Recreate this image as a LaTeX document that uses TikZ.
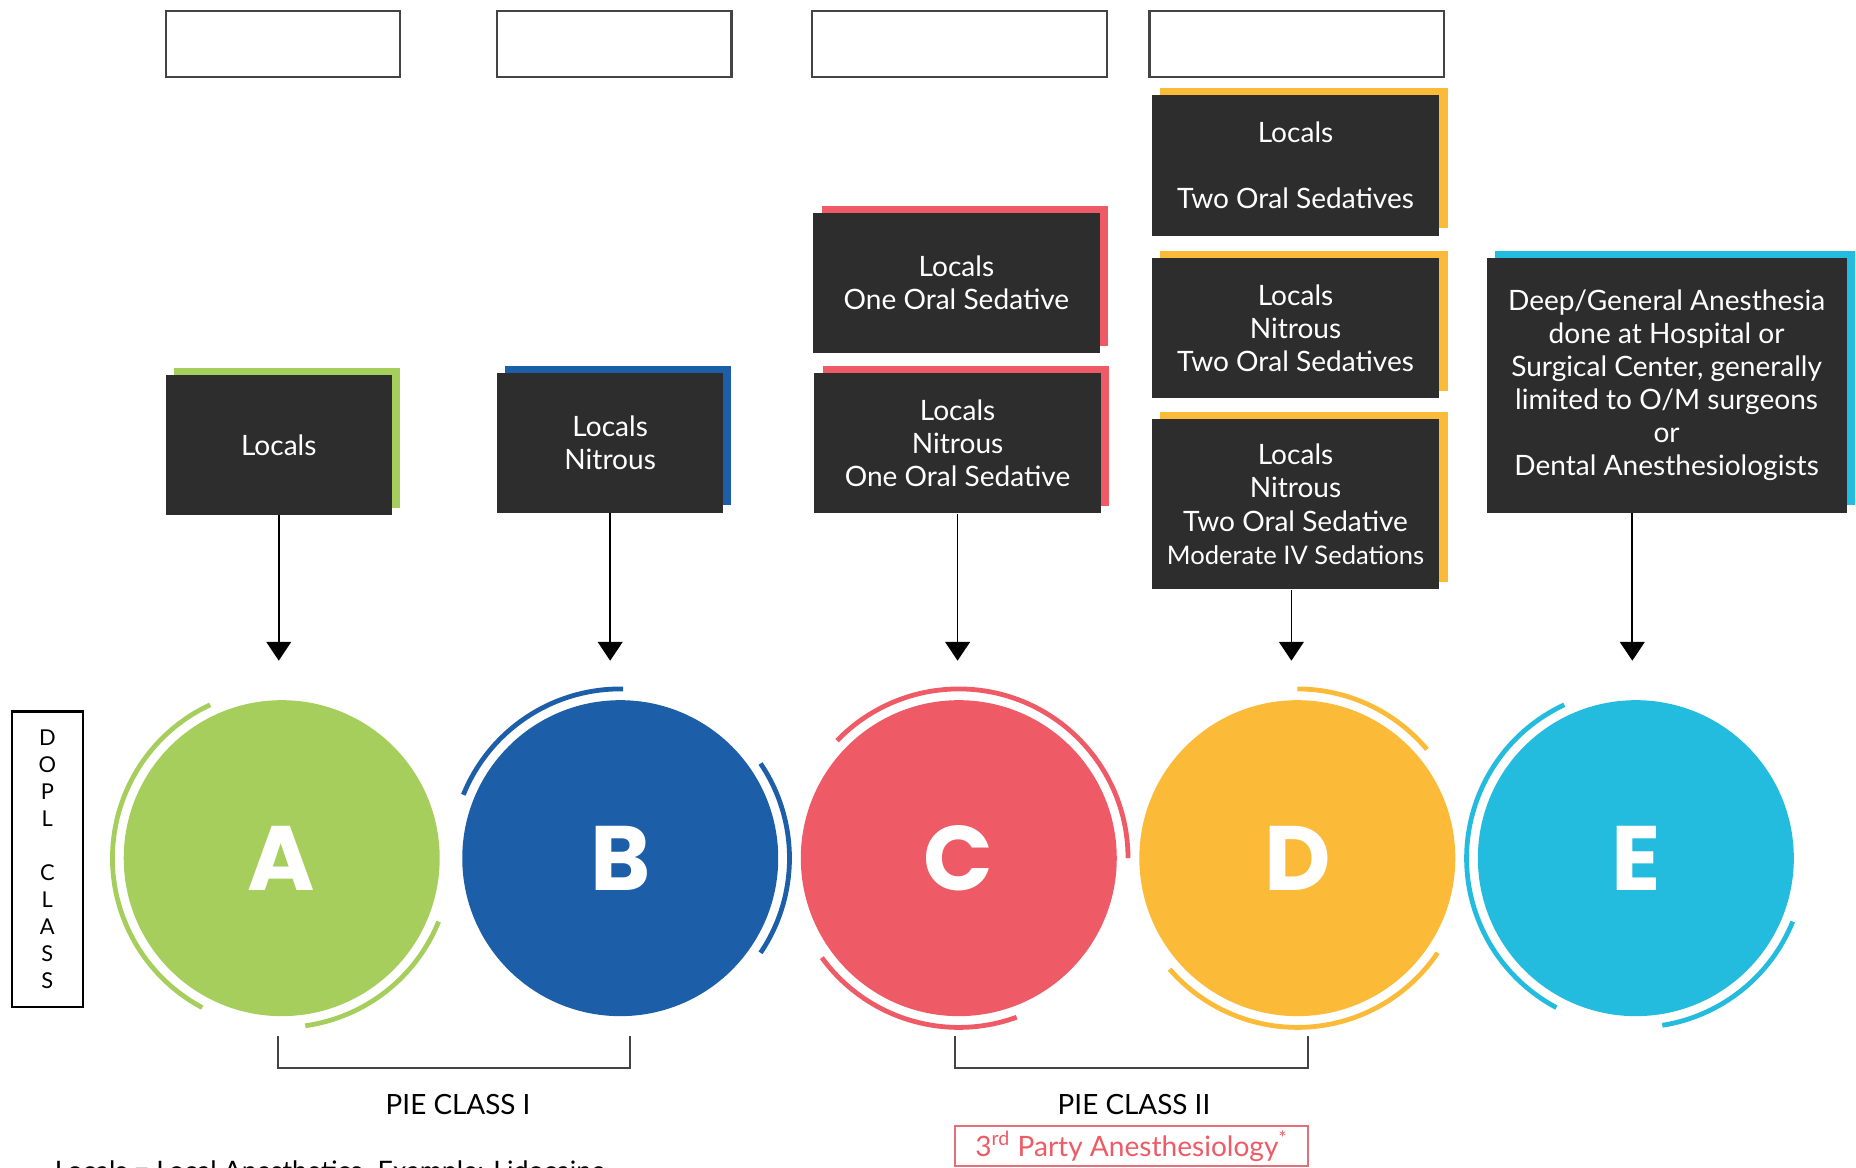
\documentclass[tikz,border=0pt]{standalone}
\usepackage{fontspec}
\setmainfont{Lato}
\newfontfamily\letterfont{Poppins}
\usepackage{tikz}
\usetikzlibrary{positioning}
\usetikzlibrary{shadows}
\usetikzlibrary{arrows.meta}

\definecolor{boxdark}{HTML}{2D2D2D}
\definecolor{boxline}{HTML}{444444}
\definecolor{classA}{HTML}{A6CE5C}
\definecolor{classB}{HTML}{1C5EA8}
\definecolor{classC}{HTML}{EE5A65}
\definecolor{classD}{HTML}{FBBA38}
\definecolor{classE}{HTML}{23BBDE}
\definecolor{partyred}{HTML}{E2707B}

\begin{document}
\begin{tikzpicture}[x=0.02cm, y=-0.02cm,
  topbox/.style={draw=boxline, line width=1.1pt, minimum height=1.12cm, inner sep=0pt},
  darkbox/.style={copy shadow={shadow xshift=0.14cm, shadow yshift=0.12cm, fill=#1, draw=none},
    fill=boxdark, text=white, align=center, inner sep=0pt,
    font=\fontsize{13.5}{15.9}\selectfont},
  classcirc/.style={circle, fill=#1, minimum size=5.34cm, inner sep=0pt, text=white,
    font=\letterfont\bfseries\fontsize{44}{44}\selectfont},
  ring/.style={draw=#1, line width=2.3pt},
  arr/.style={draw=black, line width=0.85pt, -{Triangle[width=0.42cm,length=0.32cm]}},
  bracket/.style={draw=boxline, line width=0.9pt},
  classlabel/.style={font=\fontsize{13.4}{15}\selectfont, text=black}]
  \useasboundingbox (0,0) rectangle (1568,986);

  % empty header boxes
  \node[topbox, minimum width=3.96cm] (headA) at (239,37) {};
  \node[topbox, minimum width=3.96cm] (headB) at (519,37) {};
  \node[topbox, minimum width=4.98cm] (headC) at (810.5,37) {};
  \node[topbox, minimum width=4.98cm] (headD) at (1095.5,37) {};

  % treatment boxes
  \node[darkbox=classA, minimum width=3.82cm, minimum height=2.36cm] (boxA) at (235.5,376) {Locals};
  \node[darkbox=classB, minimum width=3.82cm, minimum height=2.36cm] (boxB) at (515.5,374) {Locals\\Nitrous};
  \node[darkbox=classC, minimum width=4.84cm, minimum height=2.36cm] (boxCa) at (808,239) {Locals\\One Oral Sedative};
  \node[darkbox=classC, minimum width=4.84cm, minimum height=2.36cm] (boxCb) at (809,374.5) {Locals\\Nitrous\\One Oral Sedative};
  \node[darkbox=classD, minimum width=4.86cm, minimum height=2.38cm] (boxDa) at (1094.5,139.5) {Locals\\[15.9pt]Two Oral Sedatives};
  \node[darkbox=classD, minimum width=4.86cm, minimum height=2.36cm] (boxDb) at (1094.5,277) {Locals\\Nitrous\\Two Oral Sedatives};
  \node[darkbox=classD, minimum width=4.86cm, minimum height=2.88cm] (boxDc) at (1094.5,426)
    {Locals\\Nitrous\\Two Oral Sedative\\{\fontsize{12.3}{15.9}\selectfont Moderate IV Sedations}};
  \node[darkbox=classE, minimum width=6.08cm, minimum height=4.30cm] (boxE) at (1408,325.5)
    {Deep/General Anesthesia\\done at Hospital or\\Surgical Center, generally\\limited to O/M surgeons\\or\\Dental Anesthesiologists};

  % class circles
  \node[classcirc=classA] (circA) at (238,725) {A};
  \node[classcirc=classB] (circB) at (524,725) {B};
  \node[classcirc=classC] (circC) at (810,725) {C};
  \node[classcirc=classD] (circD) at (1096,725) {D};
  \node[classcirc=classE] (circE) at (1382,725) {E};

  % rings
  \draw[ring=classA] (circA.center) ++(115:2.86cm) arc[start angle=115, end angle=242, radius=2.86cm];
  \draw[ring=classA] (circA.center) ++(-82:2.86cm) arc[start angle=-82, end angle=-22, radius=2.86cm];
  \draw[ring=classB] (circB.center) ++(89:2.86cm) arc[start angle=89, end angle=158, radius=2.86cm];
  \draw[ring=classB] (circB.center) ++(-34:2.86cm) arc[start angle=-34, end angle=34, radius=2.86cm];
  \draw[ring=classC] (circC.center) ++(0:2.86cm) arc[start angle=0, end angle=136, radius=2.86cm];
  \draw[ring=classC] (circC.center) ++(216:2.86cm) arc[start angle=216, end angle=290, radius=2.86cm];
  \draw[ring=classD] (circD.center) ++(40:2.86cm) arc[start angle=40, end angle=90, radius=2.86cm];
  \draw[ring=classD] (circD.center) ++(221:2.86cm) arc[start angle=221, end angle=326, radius=2.86cm];
  \draw[ring=classE] (circE.center) ++(115:2.86cm) arc[start angle=115, end angle=242, radius=2.86cm];
  \draw[ring=classE] (circE.center) ++(-81:2.86cm) arc[start angle=-81, end angle=-22, radius=2.86cm];

  % arrows
  \draw[arr] (boxA.south) -- ([yshift=0.66cm]boxA.south |- circA.north);
  \draw[arr] (boxB.south) -- ([yshift=0.66cm]boxB.south |- circB.north);
  \draw[arr] (boxCb.south) -- ([yshift=0.66cm]boxCb.south |- circC.north);
  \draw[arr] ([xshift=-0.07cm]boxDc.south) -- ([xshift=-0.07cm,yshift=0.66cm]boxDc.south |- circD.north);
  \draw[arr] ([xshift=-0.06cm]circE |- boxE.south) -- ([xshift=-0.06cm,yshift=0.66cm]circE.north);

  % side label
  \node[draw=black, line width=1.1pt, minimum width=1.2cm, minimum height=5cm, align=center,
    font=\fontsize{10.5}{13}\selectfont] (dopl) at (40,726) {D\\O\\P\\L\\[13pt]C\\L\\A\\S\\S};

  % PIE classes
  \draw[bracket] (235,875) |- (532,902) -- (532,875);
  \node[classlabel] (pieA) at (387,933) {PIE CLASS I};
  \draw[bracket] (807,875) |- (1105,902) -- (1105,875);
  \node[classlabel] (pieB) at (958,933) {PIE CLASS II};
  \node[draw=partyred, line width=1pt, text=classC, minimum width=5.96cm, minimum height=0.68cm,
    inner sep=0pt, font=\fontsize{13.5}{15}\selectfont] (party) at (956,968)
    {3\textsuperscript{rd} Party Anesthesiology\textsuperscript{*}};

  % footnote (cut by the page edge)
  \node[anchor=north west, inner sep=0pt, font=\fontsize{12.9}{14}\selectfont] (note) at (46,980)
    {Locals = Local Anesthetics. Example: Lidocaine};
\end{tikzpicture}
\end{document}
